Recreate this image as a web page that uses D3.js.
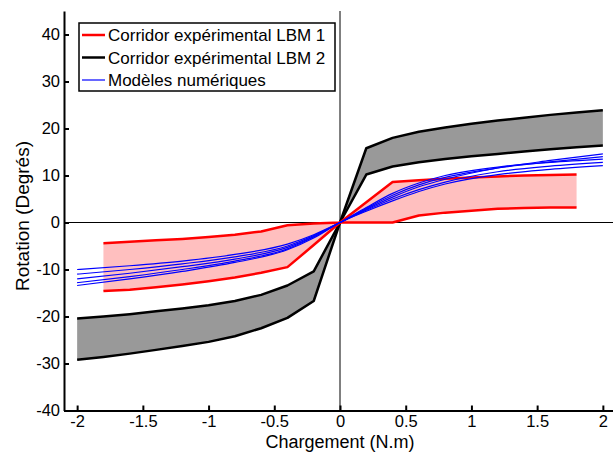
<!DOCTYPE html>
<html>
<head>
<meta charset="utf-8">
<script src="https://cdn.jsdelivr.net/npm/d3@7"></script>
<style>
  body { margin: 0; background: #fff; }
  text { font-family: Arial, "Liberation Sans", sans-serif; }
</style>
</head>
<body>
<script>
// Korridor 1 (rød), x-værdier og grænser
const xRod = [-1.8, -1.6, -1.4, -1.2, -1.0, -0.8, -0.6, -0.4, -0.2, 0, 0.2, 0.4, 0.6, 0.8, 1.0, 1.2, 1.4, 1.6, 1.8];
const rodMax = [-4.4, -4.1, -3.8, -3.5, -3.1, -2.6, -1.9, -0.6, -0.2, 0, 4.3, 8.6, 9.0, 9.3, 9.6, 9.8, 10.0, 10.1, 10.2];
const rodMin = [-14.6, -14.3, -13.8, -13.2, -12.5, -11.7, -10.7, -9.5, -4.8, 0, 0, 0, 1.5, 2.1, 2.5, 2.9, 3.1, 3.2, 3.2];

// Korridor 2 (sort)
const xSort = [-2.0, -1.8, -1.6, -1.4, -1.2, -1.0, -0.8, -0.6, -0.4, -0.2, 0, 0.2, 0.4, 0.6, 0.8, 1.0, 1.2, 1.4, 1.6, 1.8, 2.0];
const sortMax = [-20.4, -20.0, -19.5, -18.9, -18.3, -17.6, -16.7, -15.4, -13.4, -10.4, 0, 15.8, 18.0, 19.3, 20.2, 21.0, 21.7, 22.3, 22.9, 23.4, 23.9];
const sortMin = [-29.2, -28.6, -27.9, -27.1, -26.3, -25.4, -24.2, -22.5, -20.3, -16.7, 0, 10.2, 11.9, 12.8, 13.5, 14.1, 14.6, 15.1, 15.6, 16.0, 16.4];

// Numeriske modeller (blå)
const xBla = [-2.0, -1.6, -1.2, -0.8, -0.4, -0.2, 0, 0.2, 0.4, 0.6, 0.8, 1.2, 1.6, 2.0];
const blaModeller = [
  [-10.0, -9.2, -8.2, -6.8, -4.6, -2.6, 0, 2.8, 5.4, 7.6, 9.2, 11.6, 13.2, 14.6],
  [-11.0, -10.0, -8.8, -7.3, -5.0, -2.8, 0, 3.0, 5.8, 8.0, 9.6, 11.6, 12.9, 14.0],
  [-12.0, -10.8, -9.4, -7.8, -5.3, -3.0, 0, 3.2, 6.2, 8.4, 10.0, 11.8, 12.8, 13.5],
  [-12.8, -11.5, -10.0, -8.2, -5.6, -3.1, 0, 2.6, 5.0, 7.0, 8.6, 10.8, 12.0, 12.8],
  [-13.4, -12.0, -10.4, -8.5, -5.8, -3.3, 0, 2.4, 4.6, 6.6, 8.2, 10.2, 11.3, 12.1]
];

const xTicks = [-2, -1.5, -1, -0.5, 0, 0.5, 1, 1.5, 2];
const yTicks = [-40, -30, -20, -10, 0, 10, 20, 30, 40];
const legendTekster = ["Corridor expérimental LBM 1", "Corridor expérimental LBM 2", "Modèles numériques"];
const legendFarver = ["#ff0000", "#000000", "#0000ff"];

const width = 613, height = 452;
const svg = d3.select("body").append("svg").attr("width", width).attr("height", height);

const x = d3.scaleLinear().domain([-2.1, 2.1]).range([64, 616]);
const y = d3.scaleLinear().domain([-40, 45]).range([410.5, 11]);

const linje = d3.line().x(d => x(d[0])).y(d => y(d[1]));
const omraade = d3.area().x(d => x(d[0])).y0(d => y(d[1])).y1(d => y(d[2]));

// nul-linjer
svg.append("line").attr("x1", x(0)).attr("x2", x(0)).attr("y1", y(45)).attr("y2", y(-40))
  .attr("stroke", "#000").attr("stroke-width", 1);
svg.append("line").attr("x1", 64).attr("x2", width).attr("y1", y(0)).attr("y2", y(0))
  .attr("stroke", "#000").attr("stroke-width", 1);

// udfyldning
svg.append("path").datum(xSort.map((v, i) => [v, sortMin[i], sortMax[i]]))
  .attr("d", omraade).attr("fill", "#999999");
svg.append("path").datum(xRod.map((v, i) => [v, rodMin[i], rodMax[i]]))
  .attr("fill", "#ffbfbf").attr("d", omraade);

// grænselinjer
[sortMax, sortMin].forEach(arr => {
  svg.append("path").datum(xSort.map((v, i) => [v, arr[i]]))
    .attr("d", linje).attr("fill", "none").attr("stroke", "#000").attr("stroke-width", 2.5)
    .attr("stroke-linejoin", "round");
});
[rodMax, rodMin].forEach(arr => {
  svg.append("path").datum(xRod.map((v, i) => [v, arr[i]]))
    .attr("d", linje).attr("fill", "none").attr("stroke", "#ff0000").attr("stroke-width", 2.5)
    .attr("stroke-linejoin", "round");
});
blaModeller.forEach(arr => {
  svg.append("path").datum(xBla.map((v, i) => [v, arr[i]]))
    .attr("d", d3.line().x(d => x(d[0])).y(d => y(d[1])).curve(d3.curveMonotoneX))
    .attr("fill", "none").attr("stroke", "#0000ff").attr("stroke-width", 1.2);
});

// akser
const xAkse = svg.append("g").attr("transform", `translate(0,${y(-40)})`)
  .call(d3.axisBottom(x).tickValues(xTicks).tickFormat(d => String(d)).tickSize(-5).tickSizeOuter(0).tickPadding(5));
const yAkse = svg.append("g").attr("transform", `translate(${x(-2.1)},0)`)
  .call(d3.axisLeft(y).tickValues(yTicks).tickFormat(d => String(d)).tickSize(-5).tickSizeOuter(0).tickPadding(4));
[xAkse, yAkse].forEach(g => {
  g.select(".domain").attr("stroke-width", 2);
  g.selectAll(".tick line").attr("stroke-width", 2);
  g.selectAll("text").attr("font-size", 16.5).attr("font-family", "Arial, 'Liberation Sans', sans-serif");
});

svg.append("text").attr("x", x(0)).attr("y", 448).attr("text-anchor", "middle")
  .attr("font-size", 18).text("Chargement (N.m)");
svg.append("text").attr("transform", `translate(29,216) rotate(-90)`).attr("text-anchor", "middle")
  .attr("font-size", 19).text("Rotation (Degrés)");

// legende
const legend = svg.append("g");
legend.append("rect").attr("x", 79).attr("y", 23).attr("width", 256).attr("height", 68)
  .attr("fill", "#fff").attr("stroke", "#000").attr("stroke-width", 1.5);
legendTekster.forEach((t, i) => {
  const ly = 35 + i * 22.5;
  legend.append("line").attr("x1", 82).attr("x2", 105).attr("y1", ly).attr("y2", ly)
    .attr("stroke", legendFarver[i]).attr("stroke-width", i < 2 ? 2.5 : 1.2);
  legend.append("text").attr("x", 108).attr("y", ly + 6).attr("font-size", 17).text(t);
});
</script>
</body>
</html>
